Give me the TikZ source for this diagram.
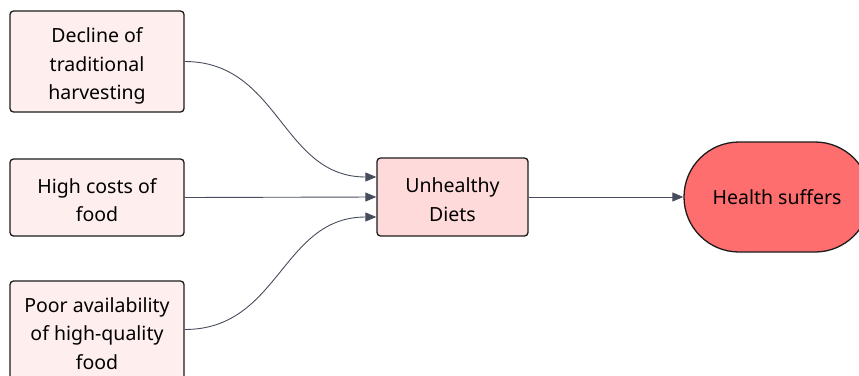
\documentclass[tikz,border=0pt]{standalone}
\usepackage{fontspec}
\setmainfont{Noto Sans}
\usetikzlibrary{arrows.meta}
\definecolor{causefill}{HTML}{FFEEEE}
\definecolor{dietfill}{HTML}{FFDADA}
\definecolor{healthfill}{HTML}{FF6E6E}
\definecolor{edgecol}{HTML}{474D5C}
\definecolor{bordercol}{HTML}{1C1C1C}
% taller first line, so the text block sits a little lower in its box
\newcommand{\toppad}[1]{\rule{0pt}{#1}}
\tikzset{
  labelfont/.style={font=\fontsize{19.5}{28.7}\selectfont},
  causebox/.style={draw=bordercol, line width=1.3pt, fill=causefill, rounded corners=3.5pt,
    minimum width=174pt, align=center, inner sep=0pt, labelfont},
  dietbox/.style={causebox, fill=dietfill, minimum width=151pt, minimum height=78pt},
  stadium/.style={draw=bordercol, line width=1.3pt, fill=healthfill, rounded corners=55pt,
    minimum width=186pt, minimum height=110pt, inner sep=0pt, labelfont},
  link/.style={draw=edgecol, line width=0.9pt, -{Stealth[length=11pt,width=9pt,inset=0pt]}}
}
\begin{document}
\begin{tikzpicture}[x=1pt,y=-1pt]
  \useasboundingbox (0,0) rectangle (859,375);
  \clip (0,0) rectangle (859,375);
  % causes
  \node[causebox, minimum height=101pt] (decline) at (97,61.5) {\toppad{24pt}Decline of\\traditional\\harvesting};
  \node[causebox, minimum height=77pt] (costs) at (97,197.5) {\toppad{20pt}High costs of\\food};
  \node[causebox, minimum height=101pt] (avail) at (97,331.5) {\toppad{19pt}Poor availability\\of high-quality\\food};
  % effect chain
  \node[dietbox] (diets) at (452.5,197) {\toppad{20pt}Unhealthy\\Diets};
  \node[stadium] (health) at (777,197) {Health suffers};
  % connectors
  \draw[link] (decline.east) .. controls +(95,0) and +(-95,0) .. ([yshift=20pt]diets.west);
  \draw[link] (costs.east) -- (diets.west);
  \draw[link] ([yshift=2pt]avail.east) .. controls +(95,0) and +(-95,0) .. ([yshift=-20pt]diets.west);
  \draw[link] (diets.east) -- (health.west);
\end{tikzpicture}
\end{document}
